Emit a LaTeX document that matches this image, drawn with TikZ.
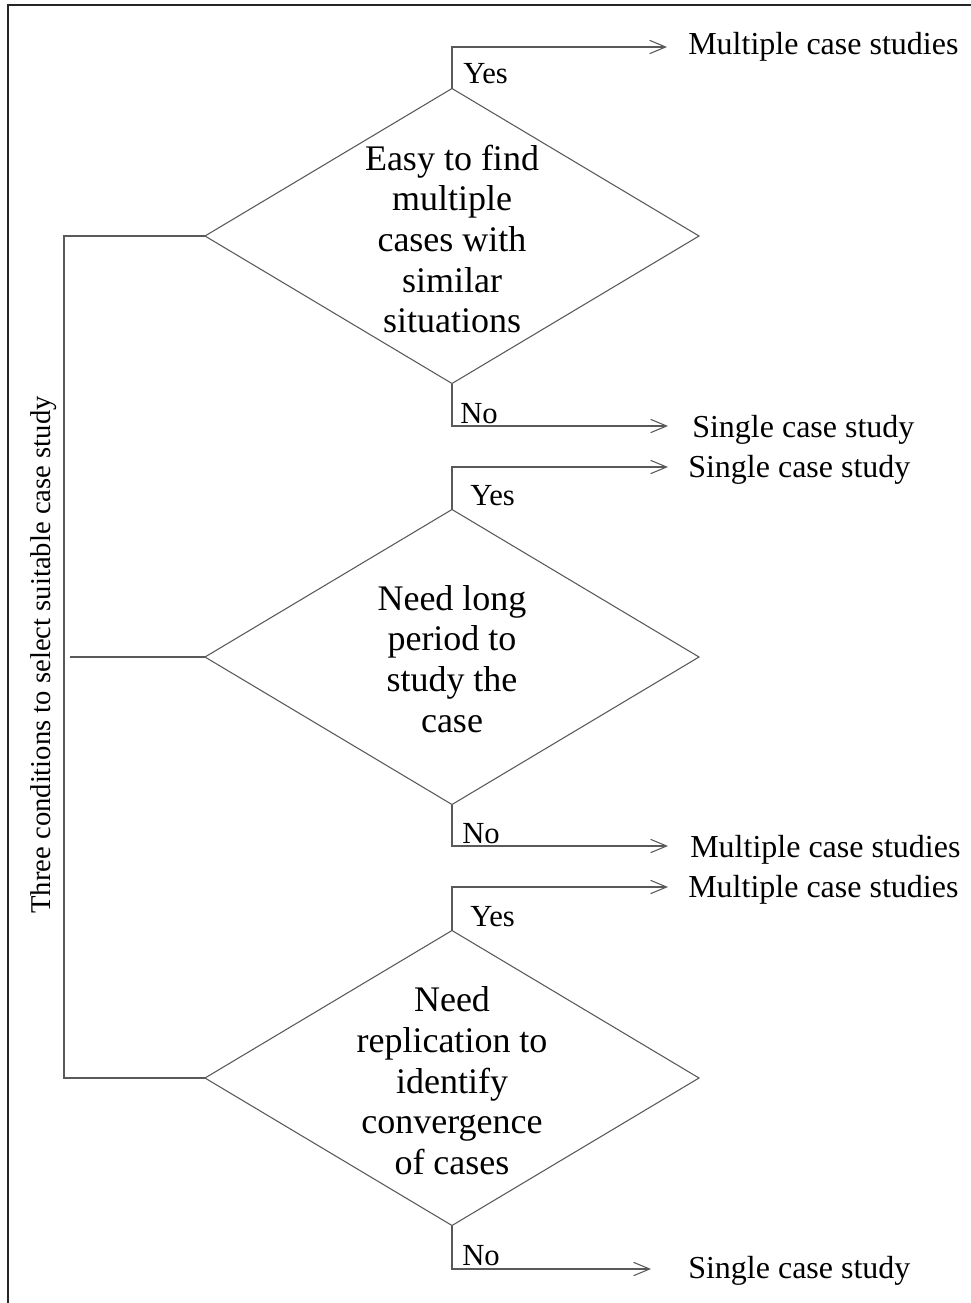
\documentclass[tikz,border=0pt]{standalone}
\usepackage{fontspec}
\setmainfont{Liberation Serif}
\usetikzlibrary{shapes.geometric,arrows.meta}
\definecolor{linegray}{gray}{0.35}
\begin{document}
\begin{tikzpicture}[x=0.75pt,y=-0.75pt,
  decision/.style={diamond,draw=linegray,line width=0.8pt,inner sep=0pt,outer sep=0pt,
    minimum width=370.5pt,minimum height=221.25pt},
  qtext/.style={align=center,inner sep=0pt,font=\fontsize{27}{30.5}\selectfont},
  answer/.style={anchor=base west,inner sep=0pt,font=\fontsize{23}{27}\selectfont},
  outcome/.style={anchor=base west,inner sep=0pt,font=\fontsize{24}{28}\selectfont},
  link/.style={draw=linegray,line width=0.8pt},
  arrowlink/.style={link,-{Straight Barb[length=12pt,width=10pt]}}]
\useasboundingbox (0,0) rectangle (971,1303);
\draw[black!85,line width=1.2pt] (8,1303) -- (8,5) -- (971,5);

% side caption
\node[rotate=90,anchor=base,inner sep=0pt,font=\fontsize{21.5}{24}\selectfont] (side) at (50,655)
  {Three conditions to select suitable case study};

% decisions
\node[decision] (d1) at (452,236) {};
\node[decision] (d2) at (452,657) {};
\node[decision] (d3) at (452,1078) {};
\node[qtext] (t1) at (452,239) {Easy to find\\multiple\\cases with\\similar\\situations};
\node[qtext] (t2) at (452,659) {Need long\\period to\\study the\\case};
\node[qtext] (t3) at (452,1081) {Need\\replication to\\identify\\convergence\\of cases};

% bracket joining the three conditions
\coordinate (b1) at (64,236);
\coordinate (b3) at (64,1078);
\coordinate (b2) at (70,657);
\draw[link] (d1.west) -- (b1) -- (b3) -- (d3.west);
\draw[link,line width=1pt] (d2.west) -- (b2);

% arrow ends
\coordinate (y1) at (667,47);
\coordinate (n1) at (668,426);
\coordinate (y2) at (668,467);
\coordinate (n2) at (668,846);
\coordinate (y3) at (668,887);
\coordinate (n3) at (651,1269);

\draw[arrowlink] (d1.north) |- (y1);
\draw[arrowlink] (d1.south) |- (n1);
\draw[arrowlink] (d2.north) |- (y2);
\draw[arrowlink] (d2.south) |- (n2);
\draw[arrowlink] (d3.north) |- (y3);
\draw[arrowlink] (d3.south) |- (n3);

% answer labels
\node[answer] (ay1) at (463,83) {Yes};
\node[answer] (an1) at (460,423) {No};
\node[answer] (ay2) at (470,505) {Yes};
\node[answer] (an2) at (462,843) {No};
\node[answer] (ay3) at (470,926) {Yes};
\node[answer] (an3) at (462,1265) {No};

% outcomes
\node[outcome] (o1) at (688,54) {Multiple case studies};
\node[outcome] (o2) at (692,437) {Single case study};
\node[outcome] (o3) at (688,477) {Single case study};
\node[outcome] (o4) at (690,857) {Multiple case studies};
\node[outcome] (o5) at (688,897) {Multiple case studies};
\node[outcome] (o6) at (688,1278) {Single case study};
\end{tikzpicture}
\end{document}
